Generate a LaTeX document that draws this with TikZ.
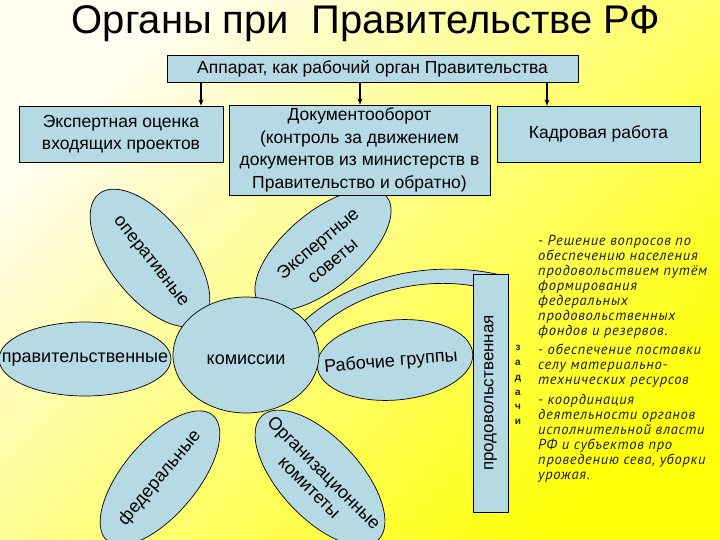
\documentclass[tikz,border=0pt]{standalone}
\usepackage{fontspec}
\setmainfont{Liberation Sans}
\newfontfamily\ptsans{PT Sans}[LetterSpace=5]
\usetikzlibrary{shapes.geometric,arrows.meta}
\definecolor{boxblue}{RGB}{182,218,228}
\definecolor{bgA}{RGB}{255,253,240}
\definecolor{bgB}{RGB}{255,249,175}
\definecolor{bgC}{RGB}{255,255,10}
\definecolor{txtgray}{RGB}{30,30,30}
\begin{document}
\begin{tikzpicture}[x=1pt,y=-1pt,
  box/.style={draw=black, line width=0.9pt, fill=boxblue, inner sep=0pt, font=\fontsize{17.5}{22.5}\selectfont, align=center},
  petal/.style={ellipse, draw=black, line width=0.7pt, fill=boxblue, inner sep=0pt},
  ptext/.style={font=\fontsize{18}{23}\selectfont, align=center, inner sep=0pt},
  arr/.style={line width=1.1pt, -{Stealth[length=6pt,width=5pt]}},
]
\useasboundingbox (0,0) rectangle (720,540);
\shade[top color=bgA, middle color=bgB, bottom color=bgC, shading angle=45] (0,0) rectangle (720,540);

% title
\node[font=\fontsize{40}{48}\selectfont, anchor=base, inner sep=0pt] (title) at (366,34) {Органы при\ \ Правительстве РФ};

% band to the food commission
\filldraw[fill=boxblue, draw=black, line width=0.7pt]
  (300,325) .. controls (340,285) and (420,255) .. (505,276)
  -- (474,286) .. controls (410,275) and (340,300) .. (310,338) -- cycle;

% petals
\node[petal, minimum width=172, minimum height=74] (pl) at (85,359) {};
\node[petal, minimum width=164, minimum height=80, rotate=-51.5] (po) at (150,258) {};
\node[petal, minimum width=166, minimum height=76, rotate=40] (pe) at (323,250) {};
\node[petal, minimum width=156, minimum height=80, rotate=5] (pw) at (395,360) {};
\node[petal, minimum width=164, minimum height=74, rotate=50] (pf) at (160,478) {};
\node[petal, minimum width=170, minimum height=80, rotate=-47] (pg) at (320,478) {};
\node[petal, minimum width=146, minimum height=116] (c) at (246,355) {};

% petal texts
\node[ptext] (tl) at (85,360) {правительственные};
\node[ptext, rotate=-51.5] (to) at (150,262) {оперативные};
\node[ptext, rotate=40] (te) at (325,252) {Экспертные\\советы};
\node[ptext, rotate=5] (tw) at (391,362) {Рабочие группы};
\node[ptext, rotate=50] (tf) at (160,478) {федеральные};
\node[ptext, rotate=-45, font=\fontsize{18}{20.5}\selectfont] (tg) at (317,480) {Организационные\\комитеты};
\node[ptext] (tc) at (246,360) {комиссии};

% top boxes
\node[box, minimum width=411, minimum height=27] (app) at (372.5,68.5) {Аппарат, как рабочий орган Правительства};
\node[box, minimum width=204, minimum height=56] (ek) at (121,134) {Экспертная оценка\\входящих проектов};
\node[box, minimum width=261, minimum height=90] (doc) at (359.5,150) {Документооборот\\(контроль за движением\\документов из министерств в\\Правительство и обратно)};
\node[box, minimum width=203, minimum height=56] (kad) at (598.5,134) {Кадровая работа};
\coordinate (a1) at (201,0);
\coordinate (a2) at (360,0);
\coordinate (a3) at (547,0);
\draw[arr] (app.south -| a1) -- (ek.north -| a1);
\draw[arr] (app.south -| a2) -- (doc.north -| a2);
\draw[arr] (app.south -| a3) -- (kad.north -| a3);

% food commission
\node[box, rotate=90, minimum width=238, minimum height=35, font=\fontsize{17}{20}\selectfont] (prod) at (490.5,393) {продовольственная};
\node[font=\fontsize{10}{14.8}\selectfont\bfseries, align=center, inner sep=0pt, text=txtgray] (zad) at (518,385) {з\\а\\д\\а\\ч\\и};

% tasks
\node[anchor=north west, inner sep=0pt, align=left, text=txtgray, font=\ptsans\itshape\fontsize{14.5}{15}\selectfont] (tasks) at (538,235)
{- Решение вопросов по\\
обеспечению населения\\
продовольствием путём\\
формирования\\
федеральных\\
продовольственных\\
фондов и резервов.\\[4pt]
- обеспечение поставки\\
селу материально-\\
технических ресурсов\\[5pt]
- координация\\
деятельности органов\\
исполнительной власти\\
РФ и субъектов про\\
проведению сева, уборки\\
урожая.};
\end{tikzpicture}
\end{document}
